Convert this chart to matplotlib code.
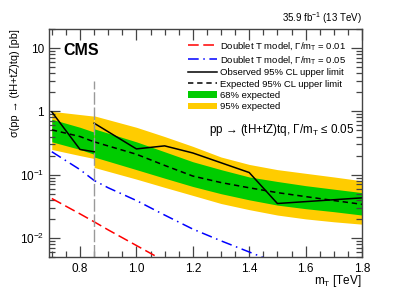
import matplotlib
matplotlib.use('Agg')
import matplotlib.pyplot as plt
from matplotlib.ticker import MultipleLocator, FixedLocator, FixedFormatter, LogLocator, NullFormatter
from matplotlib.patches import Patch
from matplotlib.lines import Line2D

plt.rcParams['font.family'] = ['Liberation Sans', 'DejaVu Sans']
plt.rcParams['mathtext.fontset'] = 'custom'
plt.rcParams['mathtext.rm'] = 'Liberation Sans'
plt.rcParams['mathtext.it'] = 'Liberation Sans:italic'

# expected bands, low-mass part (left of the split)
m_lo = [0.70, 0.80, 0.85]
exp_lo = [0.51, 0.40, 0.33]
g_up_lo = [0.75, 0.56, 0.47]
g_dn_lo = [0.33, 0.25, 0.21]
y_up_lo = [1.00, 0.89, 0.84]
y_dn_lo = [0.25, 0.20, 0.18]

# expected bands, high-mass part
m_hi = [0.85, 1.0, 1.1, 1.2, 1.3, 1.4, 1.5, 1.6, 1.7, 1.8]
exp_hi = [0.33, 0.21, 0.14, 0.095, 0.075, 0.062, 0.052, 0.045, 0.039, 0.034]
g_up_hi = [0.53, 0.33, 0.23, 0.16, 0.12, 0.092, 0.078, 0.067, 0.059, 0.052]
g_dn_hi = [0.19, 0.12, 0.088, 0.065, 0.05, 0.04, 0.033, 0.029, 0.026, 0.023]
y_up_hi = [0.85, 0.56, 0.40, 0.28, 0.19, 0.145, 0.12, 0.105, 0.092, 0.08]
y_dn_hi = [0.13, 0.085, 0.063, 0.047, 0.035, 0.028, 0.023, 0.020, 0.018, 0.0165]

# observed
m_obs_lo = [0.70, 0.80, 0.85]
obs_lo = [0.98, 0.25, 0.23]
m_obs_hi = [0.85, 1.0, 1.1, 1.2, 1.4, 1.5, 1.8]
obs_hi = [0.65, 0.255, 0.285, 0.22, 0.108, 0.035, 0.043]

# theory
m_th = [0.7, 0.8, 0.85, 0.9, 1.0, 1.1, 1.2, 1.3, 1.4, 1.5]
th_001 = [0.042, 0.024, 0.018, 0.0134, 0.0076, 0.0043, 0.0025, 0.0015, 0.0009, 0.0005]
th_005 = [0.23, 0.12, 0.081, 0.062, 0.039, 0.023, 0.0138, 0.0090, 0.0060, 0.0040]

split_mass = 0.85
split_top = 3.0

fig = plt.figure(figsize=(4.07, 2.92), dpi=100)
ax = fig.add_axes([49/407, 1-257/292, 313/407, 228/292])

yellow = '#ffcc00'
green = '#00cc00'
for m, yu, yd, gu, gd, e in [(m_lo, y_up_lo, y_dn_lo, g_up_lo, g_dn_lo, exp_lo),
                              (m_hi, y_up_hi, y_dn_hi, g_up_hi, g_dn_hi, exp_hi)]:
    ax.fill_between(m, yd, yu, color=yellow, lw=0)
    ax.fill_between(m, gd, gu, color=green, lw=0)
    ax.plot(m, e, color='black', lw=1.1, ls=(0, (3.5, 2.5)))

ax.plot(m_obs_lo, obs_lo, color='black', lw=1.1)
ax.plot(m_obs_hi, obs_hi, color='black', lw=1.1)

ax.plot(m_th, th_001, color='red', lw=1.1, ls=(0, (7, 3)))
ax.plot(m_th, th_005, color='blue', lw=1.1, ls=(0, (7, 3, 1, 3)))

ax.vlines(split_mass, 0.005, split_top, color='#999999', lw=1.0, ls=(0, (9, 2)))

ax.set_yscale('log')
ax.set_xlim(0.69, 1.8)
ax.set_ylim(0.005, 20)

ax.xaxis.set_major_locator(MultipleLocator(0.2))
ax.xaxis.set_minor_locator(MultipleLocator(0.05))
ax.yaxis.set_major_locator(FixedLocator([0.01, 0.1, 1, 10]))
ax.yaxis.set_major_formatter(FixedFormatter([r'$10^{-2}$', r'$10^{-1}$', '1', '10']))
ax.yaxis.set_minor_locator(LogLocator(base=10, subs=range(2, 10)))
ax.yaxis.set_minor_formatter(NullFormatter())

ax.tick_params(which='both', direction='in', top=True, right=True, color='#444444', labelsize=8.5)
ax.tick_params(which='major', length=8, width=0.9)
ax.tick_params(which='minor', length=4, width=0.9)
ax.tick_params(axis='x', pad=4)
for s in ax.spines.values():
    s.set_color('#444444')
    s.set_linewidth(1.0)

ax.set_ylabel('σ(pp → (tH+tZ)tq) [pb]', fontsize=7.8, loc='top', labelpad=0)
ax.set_xlabel(r'm$_{\rm T}$ [TeV]', fontsize=8.5, loc='right', labelpad=-1)

ax.text(0.045, 0.94, 'CMS', transform=ax.transAxes, fontsize=11.5, fontweight='bold', va='top')
ax.text(1.0, 1.012, r'35.9 fb$^{-1}$ (13 TeV)', transform=ax.transAxes, fontsize=7, ha='right', va='bottom')
ax.text(0.975, 0.555, r'pp → (tH+tZ)tq, Γ/m$_{\rm T}$ ≤ 0.05',
        transform=ax.transAxes, fontsize=8.4, ha='right', va='center')

handles = [
    Line2D([], [], color='red', lw=1.1, ls=(0, (7, 3))),
    Line2D([], [], color='blue', lw=1.1, ls=(0, (7, 3, 1, 3))),
    Line2D([], [], color='black', lw=1.1),
    Line2D([], [], color='black', lw=1.1, ls=(0, (3.5, 2.5))),
    Patch(color=green, lw=0),
    Patch(color=yellow, lw=0),
]
labels = [
    r'Doublet T model, Γ/m$_{\rm T}$ = 0.01',
    r'Doublet T model, Γ/m$_{\rm T}$ = 0.05',
    'Observed 95% CL upper limit',
    'Expected 95% CL upper limit',
    '68% expected',
    '95% expected',
]
ax.legend(handles, labels, loc='upper left', bbox_to_anchor=(0.445, 0.952), frameon=False,
          fontsize=6.8, handlelength=3.0, handletextpad=0.4, labelspacing=0.24,
          borderpad=0, borderaxespad=0)

fig.savefig('out.png', dpi=100)
